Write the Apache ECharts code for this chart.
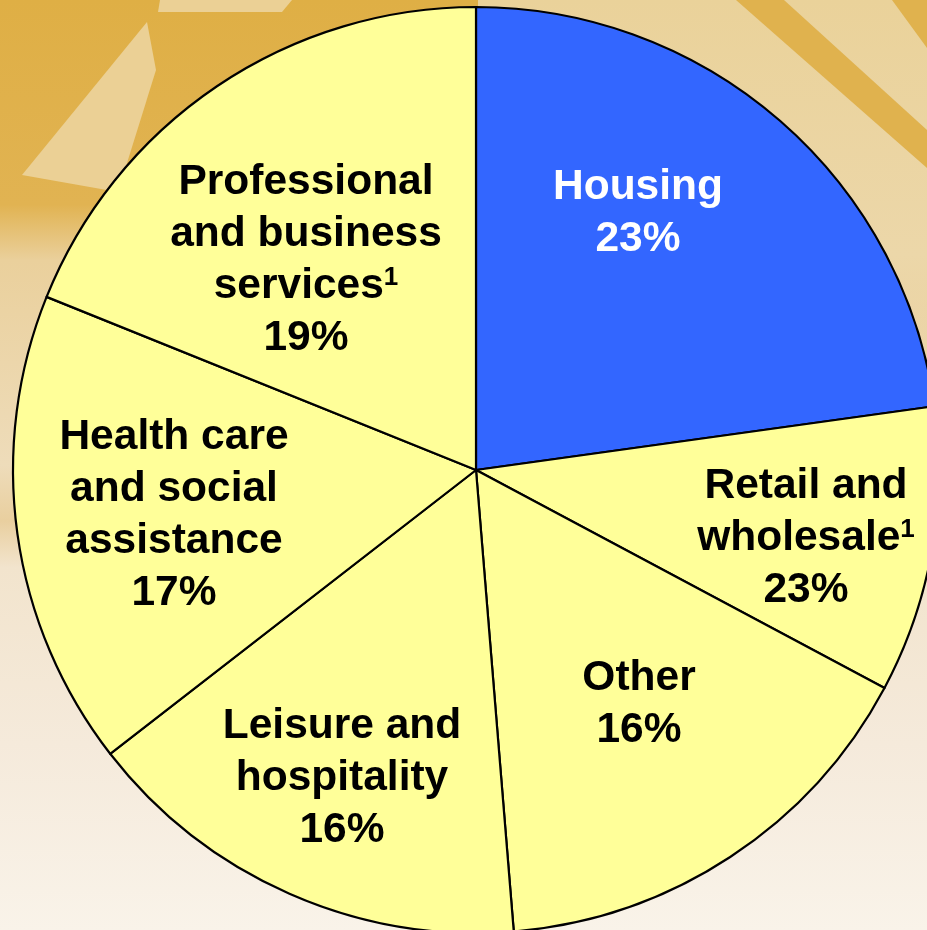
<!DOCTYPE html>
<html>
<head>
<meta charset="utf-8">
<style>
html,body{margin:0;padding:0;width:927px;height:930px;overflow:hidden;}
#chart{width:927px;height:930px;}
</style>
<script src="https://cdn.jsdelivr.net/npm/echarts@6/dist/echarts.min.js"></script>
</head>
<body>
<div id="chart"></div>
<script>
// ---- data ----
const categories = ['Housing', 'Retail and wholesale', 'Other', 'Leisure and hospitality', 'Health care and social assistance', 'Professional and business services'];
const sliceShares = [22.8, 10.0, 15.9, 15.8, 16.6, 18.9];   // slice sizes as drawn
const labelPercents = ['23%', '23%', '16%', '16%', '17%', '19%'];
const labelTexts = ['Housing', 'Retail and\nwholesale{sup|1}', 'Other', 'Leisure and\nhospitality', 'Health care\nand social\nassistance', 'Professional\nand business\nservices{sup|1}'];

// ---- layout / style ----
const labelPositions = [[638, 213], [806, 538], [639, 704], [342, 778], [174, 515], [306, 260]];
const sliceColors = ['#3366FF', '#FFFF99', '#FFFF99', '#FFFF99', '#FFFF99', '#FFFF99'];
const labelColors = ['#FFFFFF', '#000000', '#000000', '#000000', '#000000', '#000000'];
const FONT = '"Liberation Sans", Arial, Helvetica, sans-serif';

const chart = echarts.init(document.getElementById('chart'));
const lg = (x, y, x2, y2, stops) => new echarts.graphic.LinearGradient(x, y, x2, y2, stops.map(s => ({offset: s[0], color: s[1]})));

const option = {
  animation: false,
  backgroundColor: lg(0, 0, 0, 1, [
    [0, '#DFAF45'], [0.22, '#E1B352'], [0.28, '#EAD09C'], [0.5, '#EEDCBA'],
    [0.56, '#E9CF9F'], [0.61, '#F2E4CD'], [0.8, '#F5EADB'], [1, '#F9F3E9']
  ]),
  graphic: {
    elements: [
      {type: 'rect', shape: {x: 478, y: 0, width: 449, height: 340},
       style: {fill: lg(0, 0, 0, 1, [[0, '#EAD29A'], [0.75, '#ECD7A9'], [1, 'rgba(237,217,174,0)']])}},
      {type: 'polygon', shape: {points: [[736, 0], [784, 0], [927, 130], [927, 168]]}, style: {fill: '#E0B24E'}},
      {type: 'polygon', shape: {points: [[892, 0], [927, 0], [927, 48]]}, style: {fill: '#E0B24E'}},
      {type: 'polygon', shape: {points: [[22, 175], [147, 22], [156, 70], [118, 192]]}, style: {fill: '#EBD095'}},
      {type: 'polygon', shape: {points: [[160, 0], [292, 0], [282, 12], [158, 12]]}, style: {fill: '#EBD095'}}
    ]
  },
  series: [{
    type: 'pie',
    zlevel: 1,
    center: [476, 470],
    radius: 463,
    startAngle: 90,
    clockwise: true,
    silent: true,
    avoidLabelOverlap: false,
    emphasis: {disabled: true},
    itemStyle: {borderColor: '#000000', borderWidth: 2.2},
    label: {
      show: true,
      position: 'inside',
      fontFamily: FONT,
      fontWeight: 'bold',
      fontSize: 42.5,
      lineHeight: 52,
      align: 'center',
      formatter: p => labelTexts[p.dataIndex] + '\n' + labelPercents[p.dataIndex],
      rich: {
        sup: {fontFamily: FONT, fontWeight: 'bold', fontSize: 26, lineHeight: 26, padding: [0, 0, 16, 0]}
      }
    },
    labelLine: {show: false},
    labelLayout: params => {
      const pos = labelPositions[params.dataIndex];
      return {x: pos[0], y: pos[1], align: 'center', verticalAlign: 'middle'};
    },
    data: categories.map((name, i) => ({
      name: name,
      value: sliceShares[i],
      itemStyle: {color: sliceColors[i]},
      label: {color: labelColors[i], rich: {sup: {color: labelColors[i]}}}
    }))
  }]
};
chart.setOption(option);
</script>
</body>
</html>
